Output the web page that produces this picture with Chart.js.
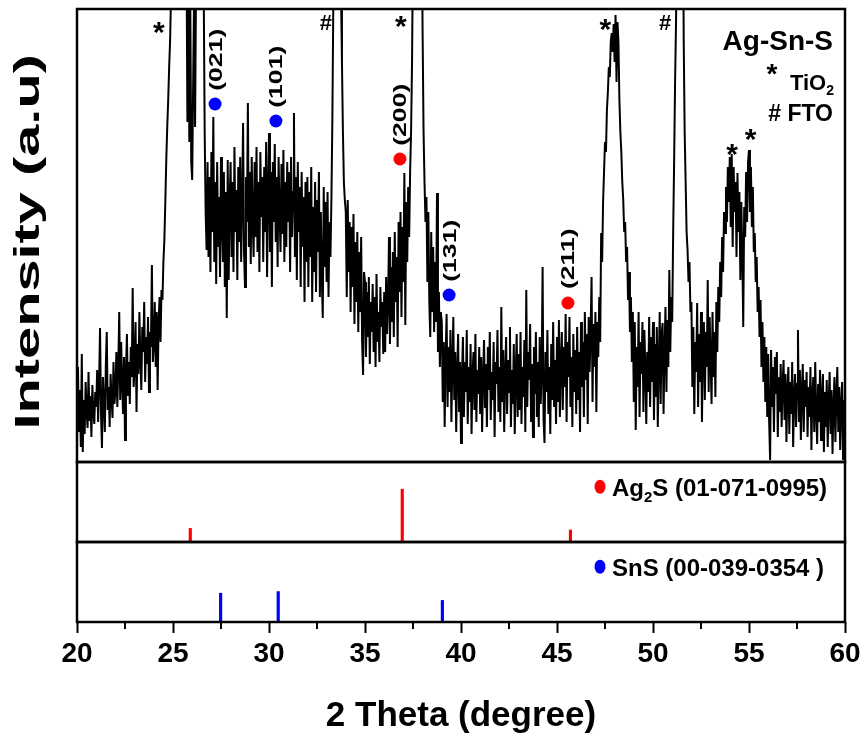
<!DOCTYPE html>
<html>
<head>
<meta charset="utf-8">
<script src="https://cdn.jsdelivr.net/npm/chart.js@4.4.1/dist/chart.umd.min.js"></script>
<style>
  html, body { margin: 0; padding: 0; background: #fff; }
  #wrap { width: 865px; height: 737px; }
</style>
</head>
<body>
<div id="wrap"><canvas id="xrd" width="865" height="737"></canvas></div>
<script>
// scan: 2 theta from 20 to 60 deg, 0.05 deg step, one row per degree
const thetaStart = 20;
const thetaStep = 0.05;
const intensity = [
  58, 95, 30, 72, 15, 108, 10, 62, 28, 80, 52, 34, 90, 41, 66, 25, 77, 50, 38, 70,
  55, 92, 40, 78, 134, 48, 14, 85, 60, 30, 96, 130, 52, 75, 35, 88, 62, 44, 100, 58,
  70, 110, 55, 95, 150, 62, 120, 80, 48, 105, 22, 90, 128, 66, 100, 58, 115, 85, 174, 75,
  95, 140, 50, 118, 88, 150, 102, 72, 135, 110, 160, 80, 125, 98, 145, 70, 130, 115, 197, 100,
  118, 160, 95, 150, 72, 140, 165, 120, 172, 162, 200, 222, 260, 302, 335, 362, 395, 422, 470, 560,
  700, 900, 1100, 1300, 1450, 1500, 1450, 1300, 1100, 950, 820, 720, 640, 560, 520, 340, 470, 320, 460, 300,
  282, 380, 470, 335, 480, 560, 640, 720, 800, 760, 640, 560, 470, 330, 250, 212, 300, 205, 285, 190,
  310, 230, 345, 200, 280, 178, 300, 215, 265, 185, 305, 240, 200, 290, 175, 270, 144, 302, 182, 260,
  300, 205, 280, 190, 315, 230, 272, 182, 295, 220, 305, 200, 260, 339, 210, 175, 285, 240, 359, 215,
  290, 198, 305, 240, 205, 300, 225, 315, 210, 280, 190, 310, 245, 285, 200, 295, 230, 320, 185, 270,
  329, 210, 290, 175, 300, 240, 318, 220, 285, 195, 305, 250, 210, 298, 228, 312, 200, 280, 215, 300,
  240, 290, 190, 305, 225, 270, 349, 205, 285, 182, 300, 230, 275, 175, 290, 215, 265, 160, 280, 200,
  285, 175, 270, 205, 295, 160, 255, 190, 280, 170, 262, 210, 290, 165, 250, 185, 144, 275, 195, 260,
  180, 270, 165, 240, 205, 262, 342, 460, 600, 750, 820, 780, 700, 620, 540, 470, 400, 330, 280, 262,
  250, 165, 262, 190, 240, 150, 235, 175, 248, 138, 220, 160, 230, 130, 210, 150, 225, 120, 87, 190,
  180, 105, 170, 125, 185, 98, 160, 130, 178, 110, 165, 95, 188, 120, 150, 100, 175, 135, 160, 108,
  170, 110, 185, 128, 160, 225, 118, 195, 140, 210, 125, 230, 160, 205, 115, 240, 170, 250, 145, 235,
  180, 289, 137, 260, 200, 275, 225, 290, 330, 400, 520, 700, 900, 1100, 1250, 1300, 1200, 1000, 780, 560,
  430, 330, 280, 240, 265, 180, 250, 160, 125, 230, 150, 215, 130, 200, 140, 269, 110, 170, 95, 150,
  140, 60, 120, 35, 105, 148, 55, 115, 70, 132, 40, 98, 145, 62, 110, 30, 90, 128, 50, 100,
  19, 85, 125, 45, 100, 70, 132, 38, 95, 60, 118, 28, 88, 110, 52, 128, 40, 92, 68, 115,
  48, 105, 30, 85, 122, 55, 98, 35, 115, 72, 130, 42, 90, 62, 120, 25, 100, 78, 132, 50,
  95, 40, 155, 60, 112, 30, 88, 125, 48, 102, 70, 135, 35, 92, 58, 118, 28, 86, 128, 45,
  108, 52, 130, 38, 95, 65, 122, 30, 172, 55, 110, 82, 138, 40, 98, 25, 115, 68, 130, 45,
  100, 35, 125, 58, 88, 195, 42, 19, 110, 70, 132, 48, 95, 28, 118, 62, 140, 55, 102, 38,
  125, 60, 142, 45, 98, 130, 52, 115, 75, 148, 40, 120, 85, 145, 55, 105, 35, 128, 70, 112,
  48, 135, 62, 110, 30, 140, 75, 120, 45, 150, 82, 128, 38, 145, 90, 130, 185, 60, 138, 95,
  150, 50, 140, 105, 165, 120, 229, 200, 260, 290, 320, 310, 352, 370, 395, 385, 420, 429, 410, 438,
  400, 447, 380, 440, 420, 362, 330, 310, 280, 262, 230, 240, 200, 215, 162, 190, 130, 165, 100, 150,
  60, 140, 32, 115, 75, 150, 45, 120, 88, 140, 50, 132, 95, 38, 110, 70, 145, 55, 125, 80,
  140, 42, 118, 65, 135, 35, 100, 150, 58, 128, 139, 48, 112, 155, 70, 142, 95, 192, 110, 165,
  140, 229, 300, 380, 440, 560, 900, 1300, 1500, 1400, 1000, 600, 420, 329, 280, 230, 212, 180, 200, 150,
  160, 75, 135, 48, 120, 90, 159, 55, 128, 80, 150, 40, 115, 140, 62, 130, 95, 182, 70, 145,
  105, 58, 150, 85, 130, 65, 160, 110, 175, 140, 200, 165, 225, 190, 250, 229, 275, 240, 295, 260,
  305, 235, 308, 215, 295, 250, 280, 205, 289, 230, 270, 182, 260, 210, 135, 255, 225, 290, 240, 300,
  312, 250, 295, 235, 275, 210, 229, 180, 205, 150, 175, 125, 162, 95, 140, 80, 125, 60, 115, 45,
  108, 40, 2, 112, 55, 95, 30, 105, 68, 110, 25, 85, 50, 98, 35, 78, 102, 42, 88, 20,
  72, 95, 28, 80, 48, 100, 15, 65, 88, 35, 78, 132, 40, 92, 22, 70, 98, 30, 82, 55,
  90, 25, 75, 45, 95, 12, 68, 85, 30, 100, 50, 18, 78, 40, 92, 22, 65, 88, 10, 70,
  35, 82, 15, 60, 90, 28, 72, 8, 55, 85, 20, 66, 95, 30, 75, 12, 58, 80, 2, 62,
  40
];

// reference patterns (relative intensity, %)
const ag2sTheta = [25.9, 36.94, 45.7];
const ag2sInt = [17, 66, 15];
const snsTheta = [27.48, 30.48, 39.03];
const snsInt = [36, 38, 27];

// indexed reflections marked on the scan
const snsMarkTheta = [27.19, 30.36, 39.38];
const snsMarkInt = [358, 341, 167];
const snsHkl = ['(021)', '(101)', '(131)'];
const ag2sMarkTheta = [36.82, 45.57];
const ag2sMarkInt = [303, 159];
const ag2sHkl = ['(200)', '(211)'];

// substrate peaks
const tio2Theta = [24.27, 36.88, 47.53, 54.13, 55.09];
const tio2Int = [434, 440, 437, 312, 327];
const ftoTheta = [32.95, 50.63];
const ftoInt = [440, 440];

const FONT = '"Liberation Sans", Arial, sans-serif';
Chart.defaults.font.family = FONT;
Chart.defaults.color = '#000';

const scan = intensity.map((v, i) => ({ x: thetaStart + i * thetaStep, y: v }));
const pairs = (xs, ys) => xs.map((x, i) => ({ x: x, y: ys[i] }));

// draw text with its ink box centred on (x, y)
function inkText(ctx, txt, x, y) {
  ctx.textAlign = 'left';
  ctx.textBaseline = 'alphabetic';
  const m = ctx.measureText(txt);
  const w = m.actualBoundingBoxLeft + m.actualBoundingBoxRight;
  const h = m.actualBoundingBoxAscent + m.actualBoundingBoxDescent;
  ctx.fillText(txt, x - w / 2 + m.actualBoundingBoxLeft, y - h / 2 + m.actualBoundingBoxAscent);
}

const decor = {
  id: 'decor',
  afterDraw(chart) {
    const { ctx, chartArea: ca, scales } = chart;
    const x = scales.x, yTop = scales.yTop;
    ctx.save();

    // panel frames
    ctx.strokeStyle = '#000';
    ctx.lineWidth = 2.5;
    ['yTop', 'yMid', 'yBot'].forEach(id => {
      const s = scales[id];
      ctx.strokeRect(ca.left, s.top, ca.right - ca.left, s.bottom - s.top);
    });

    // minor ticks
    ctx.lineWidth = 2;
    x.ticks.forEach(t => {
      const v = t.value + 2.5;
      if (v >= x.max) return;
      const px = x.getPixelForValue(v);
      ctx.beginPath();
      ctx.moveTo(px, ca.bottom);
      ctx.lineTo(px, ca.bottom + 7);
      ctx.stroke();
    });

    ctx.fillStyle = '#000';

    // y axis title
    ctx.save();
    ctx.translate(ca.left - 48, (yTop.top + yTop.bottom) / 2 + 6);
    ctx.rotate(-Math.PI / 2);
    ctx.scale(1.65, 1);
    ctx.font = 'bold 35px ' + FONT;
    inkText(ctx, 'Intensity (a.u)', 0, 0);
    ctx.restore();

    // substrate symbols
    ctx.font = 'bold 30px ' + FONT;
    tio2Theta.forEach((t, i) => inkText(ctx, '*', x.getPixelForValue(t), yTop.getPixelForValue(tio2Int[i])));
    ctx.font = 'bold 22px ' + FONT;
    ftoTheta.forEach((t, i) => inkText(ctx, '#', x.getPixelForValue(t), yTop.getPixelForValue(ftoInt[i])));

    // hkl labels, rotated above each marker
    ctx.font = 'bold 19px ' + FONT;
    const hkl = (ts, is, labels) => ts.forEach((t, i) => {
      ctx.save();
      ctx.translate(x.getPixelForValue(t) + 2, yTop.getPixelForValue(is[i]) - 44);
      ctx.rotate(-Math.PI / 2);
      ctx.scale(1.4, 1);
      inkText(ctx, labels[i], 0, 0);
      ctx.restore();
    });
    hkl(snsMarkTheta, snsMarkInt, snsHkl);
    hkl(ag2sMarkTheta, ag2sMarkInt, ag2sHkl);

    // sample name and key
    const rx = ca.right - 12;
    ctx.textAlign = 'right';
    ctx.textBaseline = 'alphabetic';
    ctx.font = 'bold 28px ' + FONT;
    ctx.fillText('Ag-Sn-S', rx, ca.top + 41);
    ctx.font = 'bold 14px ' + FONT;
    ctx.fillText('2', rx + 1, ca.top + 86);
    const w2 = ctx.measureText('2').width;
    ctx.font = 'bold 22px ' + FONT;
    ctx.fillText('TiO', rx + 1 - w2, ca.top + 81);
    ctx.font = 'bold 28px ' + FONT;
    inkText(ctx, '*', rx - 61, ca.top + 60);
    ctx.font = 'bold 23px ' + FONT;
    ctx.textAlign = 'right';
    ctx.fillText('# FTO', rx, ca.top + 112);

    // reference pattern keys
    const key = (s, color, parts) => {
      const cy = s.top + (s.bottom - s.top) * 0.31;
      const dx = ca.right - 245;
      ctx.fillStyle = color;
      ctx.beginPath();
      ctx.ellipse(dx, cy, 5.5, 7, 0, 0, Math.PI * 2);
      ctx.fill();
      ctx.fillStyle = '#000';
      ctx.textAlign = 'left';
      let px = dx + 12;
      parts.forEach(p => {
        ctx.font = 'bold ' + p[1] + 'px ' + FONT;
        ctx.fillText(p[0], px, cy + 9 + p[2]);
        px += ctx.measureText(p[0]).width;
      });
    };
    key(scales.yMid, '#ff0000', [['Ag', 24, 0], ['2', 15, 6], ['S (01-071-0995)', 24, 0]]);
    key(scales.yBot, '#0000ff', [['SnS (00-039-0354 )', 24, 0]]);

    ctx.restore();
  }
};

const panel = (weight, stackWeight, max) => ({
  type: 'linear', position: 'left', stack: 'panels', stackWeight: stackWeight, weight: weight,
  min: 0, max: max,
  ticks: { display: false }, grid: { display: false }, border: { display: false },
  afterFit: s => { s.width = 31; }
});

new Chart(document.getElementById('xrd'), {
  data: {
    datasets: [
      { type: 'line', data: scan, yAxisID: 'yTop', borderColor: '#000', borderWidth: 2,
        pointRadius: 0, tension: 0, order: 2 },
      { type: 'scatter', data: pairs(snsMarkTheta, snsMarkInt), yAxisID: 'yTop',
        backgroundColor: '#0000ff', borderWidth: 0, pointRadius: 6.5, order: 1 },
      { type: 'scatter', data: pairs(ag2sMarkTheta, ag2sMarkInt), yAxisID: 'yTop',
        backgroundColor: '#ff0000', borderWidth: 0, pointRadius: 6.5, order: 1 },
      { type: 'bar', data: pairs(ag2sTheta, ag2sInt), yAxisID: 'yMid',
        backgroundColor: '#ff0000', barThickness: 2.5, grouped: false },
      { type: 'bar', data: pairs(snsTheta, snsInt), yAxisID: 'yBot',
        backgroundColor: '#0000ff', barThickness: 2.5, grouped: false }
    ]
  },
  options: {
    responsive: false,
    animation: false,
    events: [],
    layout: { padding: { top: 9, right: 20, bottom: 0, left: 46 } },
    plugins: { legend: { display: false }, tooltip: { enabled: false } },
    scales: {
      x: {
        type: 'linear', position: 'bottom', min: 20, max: 60, offset: false,
        ticks: { stepSize: 5, autoSkip: false, maxRotation: 0, padding: 4,
                 font: { size: 28, weight: 'bold' }, color: '#000' },
        grid: { drawOnChartArea: false, drawTicks: true, tickLength: 11, tickWidth: 2,
                tickColor: '#000', offset: false },
        border: { display: false },
        title: { display: true, text: '2 Theta (degree)', color: '#000',
                 font: { size: 35, weight: 'bold' }, padding: { top: 24, bottom: 0 } },
        afterFit: s => { s.height = 115; }
      },
      yTop: panel(3, 453, 453),
      yMid: panel(2, 80, 100),
      yBot: panel(1, 80, 100)
    }
  },
  plugins: [decor]
});
</script>
</body>
</html>
